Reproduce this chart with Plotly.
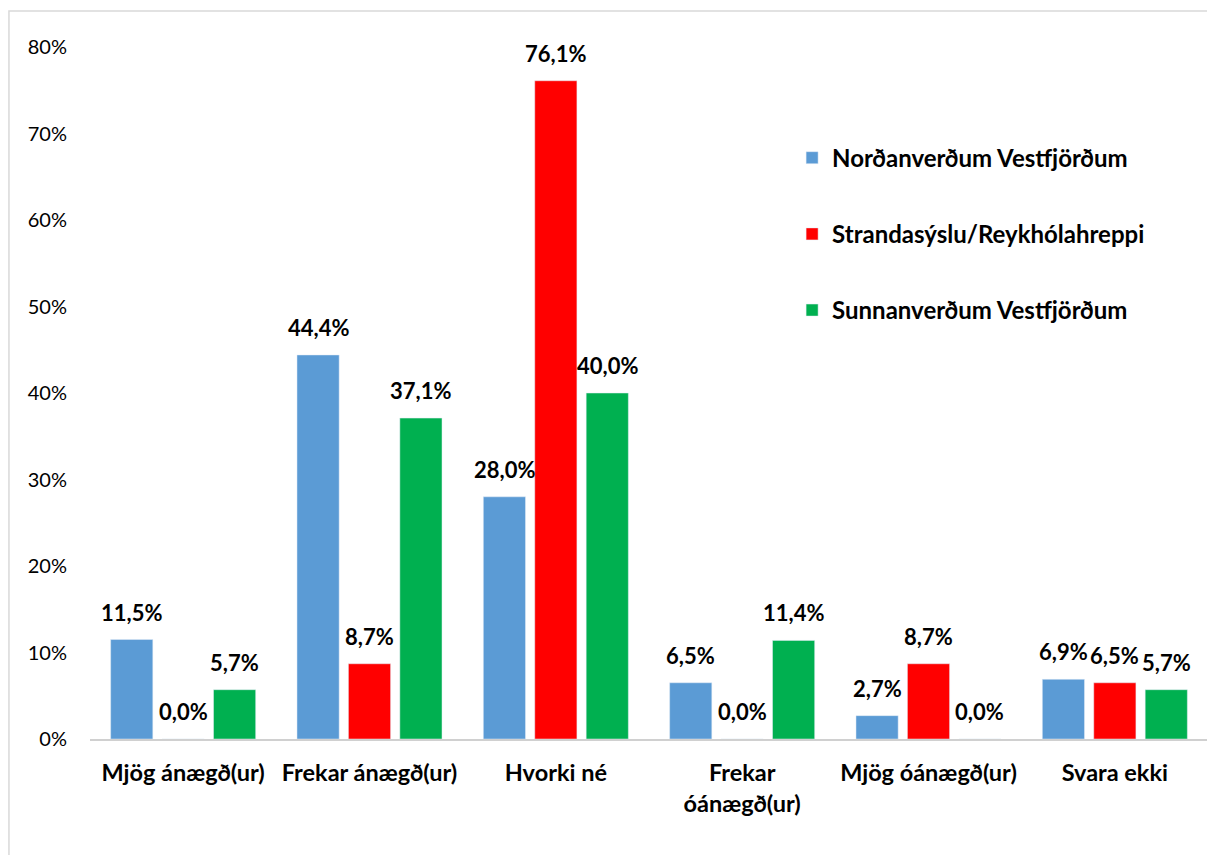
import plotly.graph_objects as go

categories = [
    "Mjög ánægð(ur)",
    "Frekar ánægð(ur)",
    "Hvorki né",
    "Frekar<br>óánægð(ur)",
    "Mjög óánægð(ur)",
    "Svara ekki",
]
nordan = [11.5, 44.4, 28.0, 6.5, 2.7, 6.9]
strandas = [0.0, 8.7, 76.1, 0.0, 8.7, 6.5]
sunnan = [5.7, 37.1, 40.0, 11.4, 0.0, 5.7]

series = [
    ("Norðanverðum Vestfjörðum", nordan, "#5b9bd5"),
    ("Strandasýslu/Reykhólahreppi", strandas, "#ff0000"),
    ("Sunnanverðum Vestfjörðum", sunnan, "#00b050"),
]

bargap = 0.172
slot = (1 - bargap) / len(series)  # width of one bar slot in category units

fig = go.Figure()
labels = []
for k, (name, vals, color) in enumerate(series):
    fig.add_trace(go.Bar(
        x=categories,
        y=vals,
        name=name,
        legendgroup=str(k),
        marker_color=color,
    ))
    # value labels sit a bit higher above the bars than plotly's own outside text
    for i, v in enumerate(vals):
        labels.append(dict(
            x=i + (k - 1) * slot, y=v, xref="x", yref="y",
            text=f"{v:.1f}%".replace(".", ","),
            showarrow=False, yanchor="bottom", yshift=12,
            font=dict(family="Lato", size=22, color="black", weight="bold"),
        ))

# page body adds 8px offset, so margins are set 8px smaller than the reference
fig.update_layout(
    width=1215,
    height=855,
    paper_bgcolor="white",
    plot_bgcolor="white",
    font=dict(family="Lato", color="black"),
    margin=dict(l=82, r=15, t=39, b=124),
    barmode="group",
    bargap=bargap,
    bargroupgap=0.18,
    annotations=labels,
    legend=dict(
        x=0.628, y=0.872, xanchor="left", yanchor="top",
        font=dict(family="Lato", size=24, weight="bold"),
        tracegroupgap=42,
        bgcolor="rgba(0,0,0,0)",
    ),
    xaxis=dict(
        showline=True, linecolor="#d0d0d0", linewidth=2,
        ticks="", ticklabelstandoff=12,
        tickfont=dict(family="Lato", size=23.5, weight="bold"),
    ),
    yaxis=dict(
        range=[0, 80], dtick=10, ticksuffix="%",
        showgrid=False, zeroline=False, showline=False,
        ticklabelstandoff=22,
        tickfont=dict(family="Lato", size=20),
    ),
    shapes=[dict(
        type="rect", xref="paper", yref="paper",
        x0=-0.0725, x1=1.02, y0=-0.2, y1=1.052,
        line=dict(color="#d9d9d9", width=1.5),
        layer="below",
    )],
)

fig.write_html("out.html")
